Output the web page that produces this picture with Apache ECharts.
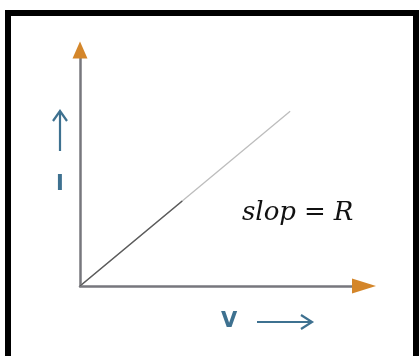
<!DOCTYPE html>
<html>
<head>
<meta charset="utf-8">
<script src="https://cdn.jsdelivr.net/npm/echarts@6/dist/echarts.min.js"></script>
<style>
  html, body { margin: 0; padding: 0; background: #fff; }
  #main { width: 419px; height: 356px; }
</style>
</head>
<body>
<div id="main"></div>
<script>
// I-V line: full faint line and darker lower segment
const lineX = [0, 7.4];
const lineY = [0, 7.4];
const darkX = [0, 3.6];
const darkY = [0, 3.6];
const axisMax = 10;
const slopeWord = 'slop';
const slopeVar = 'R';
const yLabel = 'I';
const xLabel = 'V';

const chart = echarts.init(document.getElementById('main'));

const blue = '#3e7190';
const orange = '#d4862a';

const option = {
  backgroundColor: '#fff',
  animation: false,
  grid: { left: 80, top: 50, width: 284, height: 236 },
  xAxis: {
    type: 'value', min: 0, max: axisMax,
    axisLine: { show: true, lineStyle: { color: '#77777d', width: 2.5 } },
    axisTick: { show: false }, axisLabel: { show: false }, splitLine: { show: false }
  },
  yAxis: {
    type: 'value', min: 0, max: axisMax,
    axisLine: { show: true, lineStyle: { color: '#77777d', width: 2.5 } },
    axisTick: { show: false }, axisLabel: { show: false }, splitLine: { show: false }
  },
  series: [
    {
      type: 'line',
      data: lineX.map((x, i) => [x, lineY[i]]),
      symbol: 'none',
      lineStyle: { color: '#bdbdbd', width: 1.3 },
      markPoint: {
        symbolKeepAspect: false,
        label: { show: false },
        data: [
          { coord: [axisMax, 0], symbol: 'triangle', symbolRotate: -90, symbolSize: [15, 24], itemStyle: { color: orange } },
          { coord: [0, axisMax], symbol: 'triangle', symbolSize: [15, 17], itemStyle: { color: orange } }
        ]
      }
    },
    {
      type: 'line',
      data: darkX.map((x, i) => [x, darkY[i]]),
      symbol: 'none',
      lineStyle: { color: '#5a5a5a', width: 1.4 }
    }
  ],
  graphic: [
    // outer black frame
    { type: 'rect', shape: { x: 8, y: 13, width: 408, height: 400 },
      style: { fill: 'none', stroke: '#000', lineWidth: 6 }, z: 100 },
    // slope label (math style: italic letters, upright "=")
    { type: 'text', left: 242, top: 200,
      style: {
        text: '{it|' + slopeWord + '}{eq|=}{it|' + slopeVar + '}',
        rich: {
          it: { font: 'italic 27px "DejaVu Serif", serif', fill: '#111', fontStyle: 'italic', fontSize: 26, fontFamily: 'DejaVu Serif' },
          eq: { fontSize: 26, fontFamily: 'DejaVu Serif', fill: '#111', padding: [0, 8, 0, 8] }
        }
      } },
    // I label + up arrow
    { type: 'text', left: 56, top: 174,
      style: { text: yLabel, font: 'bold 21px "DejaVu Sans", sans-serif', fill: blue } },
    { type: 'line', shape: { x1: 60, y1: 151, x2: 60, y2: 112 }, style: { stroke: blue, lineWidth: 2.2 } },
    { type: 'polyline', shape: { points: [[53, 121], [60, 111], [67, 121]] }, style: { stroke: blue, lineWidth: 2.2, fill: 'none' } },
    // V label + right arrow
    { type: 'text', left: 221, top: 311,
      style: { text: xLabel, font: 'bold 21px "DejaVu Sans", sans-serif', fill: blue } },
    { type: 'line', shape: { x1: 257, y1: 322, x2: 312, y2: 322 }, style: { stroke: blue, lineWidth: 2.2 } },
    { type: 'polyline', shape: { points: [[301, 315], [312, 322], [301, 329]] }, style: { stroke: blue, lineWidth: 2.2, fill: 'none' } }
  ]
};

chart.setOption(option);
</script>
</body>
</html>
